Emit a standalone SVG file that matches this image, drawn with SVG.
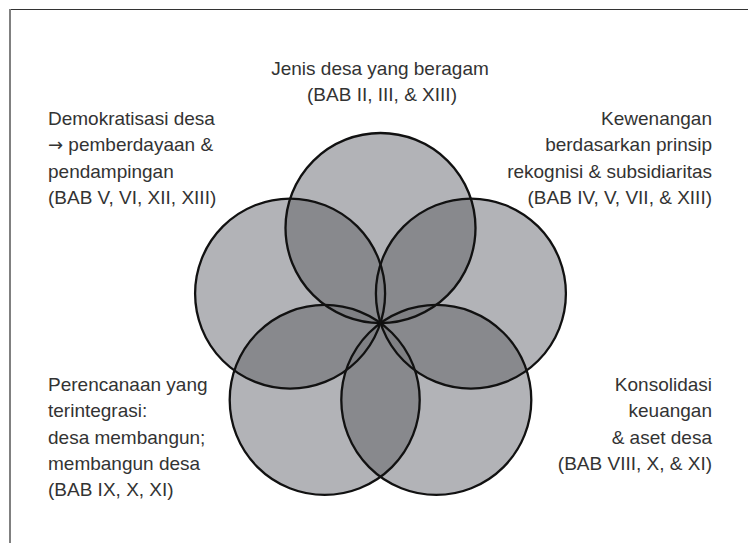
<svg xmlns="http://www.w3.org/2000/svg" xmlns:xlink="http://www.w3.org/1999/xlink" width="748" height="543" viewBox="0 0 748 543">
<style>
.lbl{font-family:"Liberation Sans",Arial,sans-serif;font-size:19px;fill:#333}
.end{text-anchor:end}
.mid{text-anchor:middle}
.arr{font-family:"DejaVu Sans",sans-serif;font-size:18px}
.base{fill:#b2b3b7}
.dbl{fill:#88898d}
.tri{fill:#7f8084}
.ring{fill:none;stroke:#111;stroke-width:2.3}
</style>
<defs>
<circle id="k0" cx="380.5" cy="228" r="95"/>
<circle id="k1" cx="470.9" cy="293.6" r="95"/>
<circle id="k2" cx="436.3" cy="399.9" r="95"/>
<circle id="k3" cx="324.7" cy="399.9" r="95"/>
<circle id="k4" cx="290.1" cy="293.6" r="95"/>
<clipPath id="cp0"><circle cx="380.5" cy="228" r="95"/></clipPath>
<clipPath id="cp1"><circle cx="470.9" cy="293.6" r="95"/></clipPath>
<clipPath id="cp2"><circle cx="436.3" cy="399.9" r="95"/></clipPath>
<clipPath id="cp3"><circle cx="324.7" cy="399.9" r="95"/></clipPath>
<clipPath id="cp4"><circle cx="290.1" cy="293.6" r="95"/></clipPath>
</defs>
<rect x="0" y="0" width="748" height="543" fill="#fff"/>
<g id="frame">
<line x1="9" y1="9.5" x2="748" y2="9.5" stroke="#333" stroke-width="1.2"/>
<line x1="10" y1="9" x2="10" y2="543" stroke="#808080" stroke-width="2"/>
</g>
<g id="node-jenis">
<use xlink:href="#k0" class="base"/>
<text class="lbl mid" x="380" y="75">Jenis desa yang beragam</text>
<text class="lbl mid" x="382" y="101">(BAB II, III, &amp; XIII)</text>
</g>
<g id="node-kewenangan">
<use xlink:href="#k1" class="base"/>
<text class="lbl end" x="712" y="125">Kewenangan</text>
<text class="lbl end" x="712" y="151.3">berdasarkan prinsip</text>
<text class="lbl end" x="712" y="177.6">rekognisi &amp; subsidiaritas</text>
<text class="lbl end" x="712" y="203.9">(BAB IV, V, VII, &amp; XIII)</text>
</g>
<g id="node-konsolidasi">
<use xlink:href="#k2" class="base"/>
<text class="lbl end" x="712" y="391">Konsolidasi</text>
<text class="lbl end" x="712" y="417.3">keuangan</text>
<text class="lbl end" x="712" y="443.6">&amp; aset desa</text>
<text class="lbl end" x="712" y="469.9">(BAB VIII, X, &amp; XI)</text>
</g>
<g id="node-perencanaan">
<use xlink:href="#k3" class="base"/>
<text class="lbl" x="48" y="391">Perencanaan yang</text>
<text class="lbl" x="48" y="417.3">terintegrasi:</text>
<text class="lbl" x="48" y="443.6">desa membangun;</text>
<text class="lbl" x="48" y="469.9">membangun desa</text>
<text class="lbl" x="48" y="496.2">(BAB IX, X, XI)</text>
</g>
<g id="node-demokratisasi">
<use xlink:href="#k4" class="base"/>
<text class="lbl" x="48" y="125">Demokratisasi desa</text>
<text class="lbl" x="48" y="151.3"><tspan class="arr">→</tspan> pemberdayaan &amp;</text>
<text class="lbl" x="48" y="177.6">pendampingan</text>
<text class="lbl" x="48" y="203.9">(BAB V, VI, XII, XIII)</text>
</g>
<g id="overlaps">
<use xlink:href="#k1" class="dbl" clip-path="url(#cp0)"/>
<use xlink:href="#k2" class="dbl" clip-path="url(#cp0)"/>
<use xlink:href="#k3" class="dbl" clip-path="url(#cp0)"/>
<use xlink:href="#k4" class="dbl" clip-path="url(#cp0)"/>
<use xlink:href="#k2" class="dbl" clip-path="url(#cp1)"/>
<use xlink:href="#k3" class="dbl" clip-path="url(#cp1)"/>
<use xlink:href="#k4" class="dbl" clip-path="url(#cp1)"/>
<use xlink:href="#k3" class="dbl" clip-path="url(#cp2)"/>
<use xlink:href="#k4" class="dbl" clip-path="url(#cp2)"/>
<use xlink:href="#k4" class="dbl" clip-path="url(#cp3)"/>
<use xlink:href="#k2" class="tri" clip-path="url(#cp0)"/>
<use xlink:href="#k3" class="tri" clip-path="url(#cp1)"/>
<use xlink:href="#k4" class="tri" clip-path="url(#cp2)"/>
<use xlink:href="#k0" class="tri" clip-path="url(#cp3)"/>
<use xlink:href="#k1" class="tri" clip-path="url(#cp4)"/>
</g>
<g id="outlines">
<use xlink:href="#k0" class="ring"/>
<use xlink:href="#k1" class="ring"/>
<use xlink:href="#k2" class="ring"/>
<use xlink:href="#k3" class="ring"/>
<use xlink:href="#k4" class="ring"/>
</g>
</svg>
